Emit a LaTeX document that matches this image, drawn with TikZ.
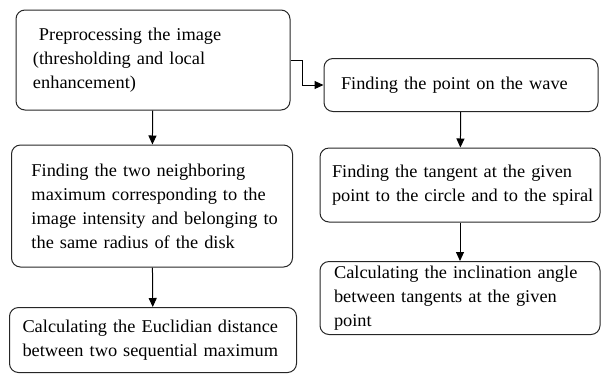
\documentclass[tikz,border=0pt]{standalone}
\usepackage{fontspec}
\setmainfont{Liberation Serif}[FakeStretch=1.02]
\usetikzlibrary{arrows.meta}
\tikzset{stage/.style={draw=black!85, line width=1pt, rounded corners=9pt, inner xsep=0pt, font=\fontsize{18}{24}\selectfont, execute at begin node={\leftskip=#1\rightskip=-30pt plus 1fil\parindent=0pt}},
  stage/.default=17pt}

\begin{document}
\begin{tikzpicture}[x=1pt, y=-1pt, >={Triangle[length=9pt, width=8pt]}]
\useasboundingbox (0,0) rectangle (601,376);

\begin{scope}[every node/.style={stage}]
  \node[minimum height=100pt, text width=274pt] (pre) at (153,60) {\ Preprocessing the image\\(thresholding and local\\enhancement)};
  \node[stage=20pt, minimum height=122pt, text width=281pt] (max) at (152,206) {Finding the two neighboring\\maximum corresponding to the\\image intensity and belonging to\\the same radius of the disk};
  \node[stage=13pt, minimum height=65pt, text width=287pt] (dist) at (153,340) {Calculating the Euclidian distance\\between two sequential maximum};
  \node[minimum height=53pt, text width=274pt] (wave) at (461,85) {Finding the point on the wave};
  \node[stage=12pt, minimum height=74pt, text width=280pt] (tan) at (460,185) {Finding the tangent at the given\\point to the circle and to the spiral};
  \node[stage=14pt, minimum height=73pt, text width=280pt] (angle) at (460,298) {Calculating the inclination angle\\between tangents at the given\\point};
\end{scope}

\coordinate (bend) at (302,60);

\begin{scope}[line width=1pt]
\path[->] (pre) edge (max);
\path[->] (max) edge (dist);
\draw[->] (pre.east) -- (bend) |- (wave.west);
\path[->] (wave) edge (tan);
\path[->] (tan) edge (angle);
\end{scope}

\end{tikzpicture}
\end{document}
